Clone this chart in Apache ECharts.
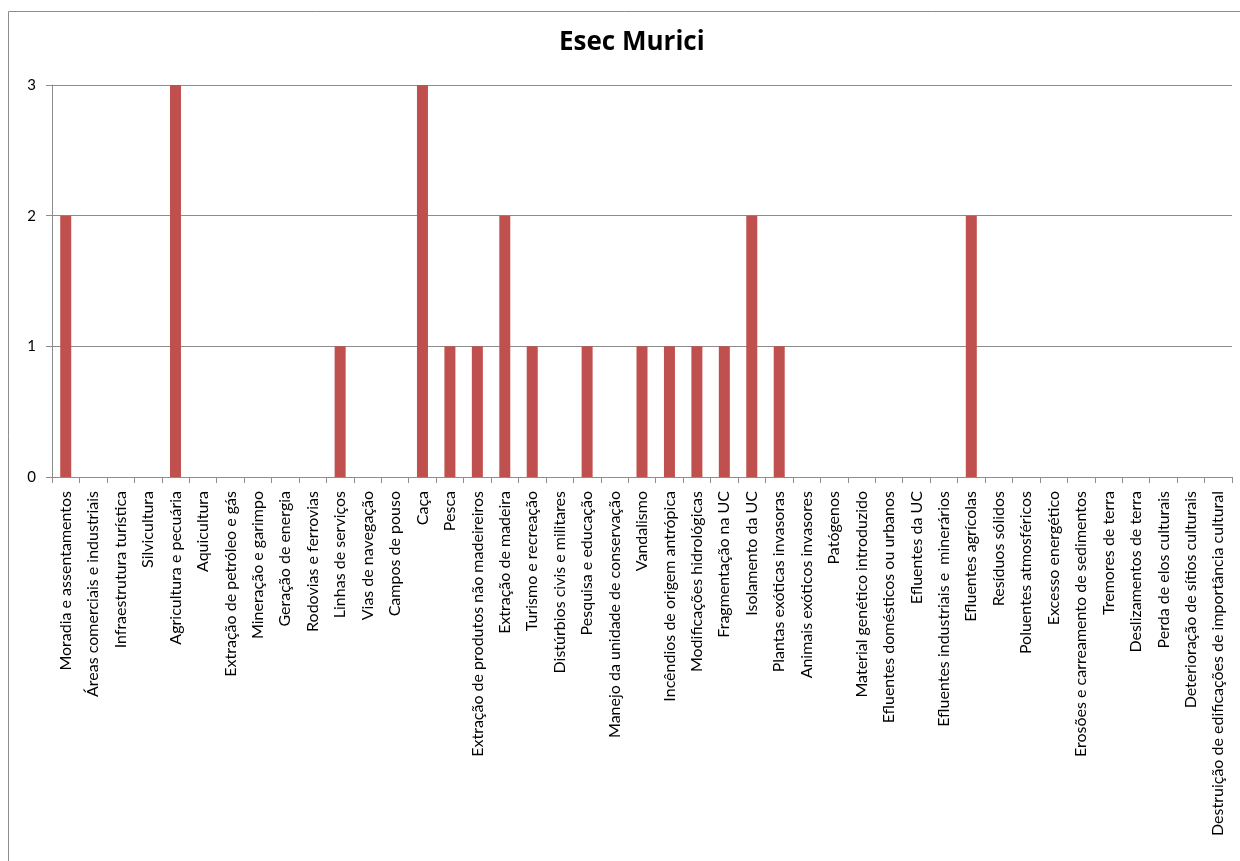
<!DOCTYPE html>
<html>
<head>
<meta charset="utf-8">
<script src="https://cdn.jsdelivr.net/npm/echarts@6/dist/echarts.min.js"></script>
<style>
  html, body { margin: 0; padding: 0; background: #fff; }
  #chart { width: 1240px; height: 861px; }
</style>
</head>
<body>
<div id="chart"></div>
<script>
// categorias (ameaças)
var categories = [
  'Moradia e assentamentos',
  'Áreas comerciais e industriais',
  'Infraestrutura turística',
  'Silvicultura',
  'Agricultura e pecuária',
  'Aquicultura',
  'Extração de petróleo e gás',
  'Mineração e garimpo',
  'Geração de energia',
  'Rodovias e ferrovias',
  'Linhas de serviços',
  'Vias de navegação',
  'Campos de pouso',
  'Caça',
  'Pesca',
  'Extração de produtos não madeireiros',
  'Extração de madeira',
  'Turismo e recreação',
  'Distúrbios civis e militares',
  'Pesquisa e educação',
  'Manejo da unidade de conservação',
  'Vandalismo',
  'Incêndios de origem antrópica',
  'Modificações hidrológicas',
  'Fragmentação na UC',
  'Isolamento da UC',
  'Plantas exóticas invasoras',
  'Animais exóticos invasores',
  'Patógenos',
  'Material genético introduzido',
  'Efluentes domésticos ou urbanos',
  'Efluentes da UC',
  'Efluentes industriais e  minerários',
  'Efluentes agrícolas',
  'Resíduos sólidos',
  'Poluentes atmosféricos',
  'Excesso energético',
  'Erosões e carreamento de sedimentos',
  'Tremores de terra',
  'Deslizamentos de terra',
  'Perda de elos culturais',
  'Deterioração de sítios culturais',
  'Destruição de edificações de importância cultural'
];

var values = [
  2, 0, 0, 0, 3, 0, 0, 0, 0, 0,
  1, 0, 0, 3, 1, 1, 2, 1, 0, 1,
  0, 1, 1, 1, 1, 2, 1, 0, 0, 0,
  0, 0, 0, 2, 0, 0, 0, 0, 0, 0,
  0, 0, 0
];

var yTicks = [0, 1, 2, 3];

var chart = echarts.init(document.getElementById('chart'));

var option = {
    animation: false,
    title: {
        text: 'Esec Murici',
        left: 554,
        top: 25,
        textStyle: {
            fontFamily: 'Open Sans',
            fontSize: 26,
            fontWeight: 'bold',
            color: '#000'
        }
    },
    graphic: [
        {
            type: 'rect',
            shape: { x: 8.5, y: 11.5, width: 1300, height: 900 },
            style: { fill: 'none', stroke: '#8c8c8c', lineWidth: 1 },
            silent: true
        }
    ],
    grid: {
        left: 52,
        right: 8,
        top: 85,
        bottom: 384
    },
    xAxis: {
        type: 'category',
        data: categories,
        axisLine: { lineStyle: { color: '#8c8c8c' } },
        axisTick: { show: true, length: 6, lineStyle: { color: '#8c8c8c' } },
        axisLabel: {
            interval: 0,
            rotate: 90,
            margin: 14,
            fontFamily: 'Lato',
            fontSize: 16,
            color: '#000'
        }
    },
    yAxis: {
        type: 'value',
        min: yTicks[0],
        max: yTicks[yTicks.length - 1],
        interval: 1,
        axisLine: { show: true, lineStyle: { color: '#8c8c8c' } },
        axisTick: { show: true, length: 6, lineStyle: { color: '#8c8c8c' } },
        splitLine: { lineStyle: { color: '#8c8c8c' } },
        axisLabel: {
            margin: 16,
            fontFamily: 'Lato',
            fontSize: 15,
            color: '#000'
        }
    },
    series: [
        {
            type: 'bar',
            data: values,
            barWidth: 11,
            itemStyle: { color: '#C0504D' }
        }
    ]
};
chart.setOption(option);
</script>
</body>
</html>
